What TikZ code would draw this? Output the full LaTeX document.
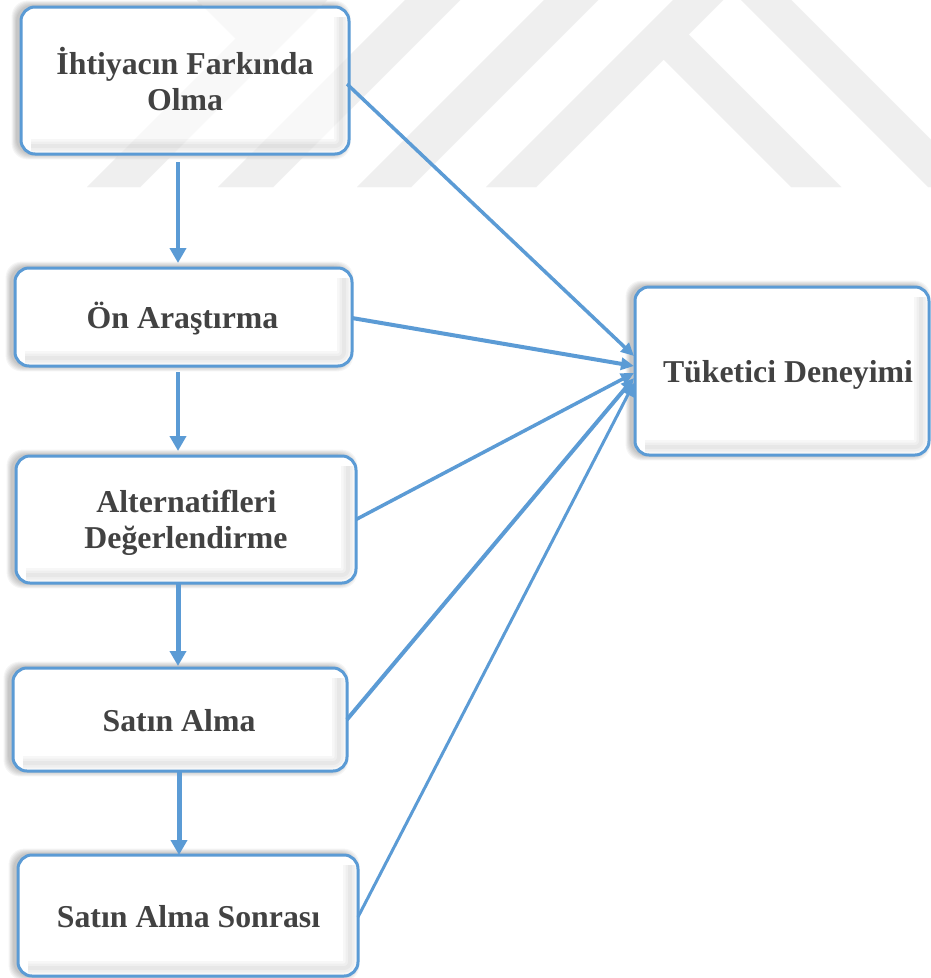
\documentclass[tikz,border=0pt]{standalone}
\usepackage{fontspec}
\setmainfont{Liberation Serif}
\usetikzlibrary{arrows.meta}

\definecolor{edgeblue}{HTML}{5B9BD5}
\definecolor{inkgray}{HTML}{424242}
\definecolor{markgray}{HTML}{EFEFEF}

\pgfdeclarelayer{back}
\pgfsetlayers{back,main}

\tikzset{
  card/.style={rectangle, rounded corners=14pt, fill=white, inner sep=0pt, outer sep=0pt},
  frame/.style={draw=edgeblue, line width=3pt, rounded corners=14pt},
  txt/.style={anchor=base, inner sep=0pt, outer sep=0pt, text=inkgray,
    font=\fontsize{31.8pt}{36pt}\selectfont\bfseries},
  flow/.style={draw=edgeblue, line width=#1, -{Triangle[length=15pt,width=16pt]}},
  flow/.default=4pt,
  feed/.style={draw=edgeblue, line width=#1, -{Triangle[length=13pt,width=12pt]}},
  feed/.default=3.5pt,
}

% diagonal stripe emblem in the background
\newcommand{\markpattern}[1]{%
  \fill[#1]
    (87,187) -- (140,187) -- (327,0) -- (197,0) -- (235.5,38.5) -- cycle
    (218,187) -- (273,187) -- (460,0) -- (405,0) -- cycle
    (357,187) -- (411,187) -- (598,0) -- (544,0) -- cycle
    (486,187) -- (536,187) -- (663.5,59.5) -- (791,187) -- (841,187)
      -- (688.5,34.5) -- (723,0) -- (673,0) -- cycle
    (741,0) -- (791,0) -- (931,140) -- (931,187) -- (928,187) -- cycle;
}

\begin{document}
\begin{tikzpicture}[x=1pt,y=-1pt]
\useasboundingbox (0,0) rectangle (931,978);

\begin{pgfonlayer}{back}
  \fill[white] (0,0) rectangle (931,978);
  \markpattern{markgray}
\end{pgfonlayer}

% stage boxes
\node[card, minimum width=328pt, minimum height=147pt] (n1) at (185,80.5) {};
\node[card, minimum width=337pt, minimum height=98pt]  (n2) at (183.5,317) {};
\node[card, minimum width=340pt, minimum height=127pt] (n3) at (186,519.5) {};
\node[card, minimum width=334pt, minimum height=103pt] (n4) at (180,719.5) {};
\node[card, minimum width=340pt, minimum height=121pt] (n5) at (188,915.5) {};
\node[card, minimum width=294pt, minimum height=168pt] (n6) at (782,371) {};

% soft outer shadows
\begin{pgfonlayer}{back}
  \foreach \nd in {n1,n2,n3,n4,n5,n6}{
    \foreach \e in {1,...,6}{
      \fill[black, opacity=0.04, rounded corners=16pt]
        ([xshift=-4pt-\e*0.9pt, yshift=\e*0.9pt+1pt]\nd.north west) rectangle
        ([xshift=-4pt+\e*0.9pt, yshift=-\e*0.9pt]\nd.south east);
    }
  }
\end{pgfonlayer}

% emblem seen faintly through the boxes
\markpattern{markgray, opacity=0.4}

% inner shading along right and bottom sides
\foreach \nd in {n1,n2,n3,n4,n5,n6}{
  \foreach \w in {14,9,4}{
    \draw[black, opacity=0.03, line width=\w pt, rounded corners=6pt]
      ([xshift=-8pt,yshift=-10pt]\nd.north east) --
      ([xshift=-8pt,yshift=8pt]\nd.south east) --
      ([xshift=10pt,yshift=8pt]\nd.south west);
  }
}

% box outlines
\foreach \nd in {n1,n2,n3,n4,n5,n6}{
  \draw[frame] (\nd.north west) rectangle (\nd.south east);
}

% sequence arrows
\draw[flow=4pt] ([xshift=-7pt,yshift=-8pt]n1.south) -- ([xshift=-5.5pt,yshift=5pt]n2.north);
\draw[flow=4pt] ([xshift=-5.5pt,yshift=-6pt]n2.south) -- ([xshift=-8pt,yshift=5pt]n3.north);
\draw[flow=5pt] ([xshift=-8pt,yshift=-1pt]n3.south) -- ([xshift=-2pt,yshift=2pt]n4.north);
\draw[flow=5pt] ([xshift=-1pt]n4.south) -- ([xshift=-9pt]n5.north);

% links to the experience box
\draw[feed=3.5pt] ([xshift=-2pt,yshift=-3.5pt]n1.east) -- ([xshift=-1pt,yshift=15pt]n6.west);
\draw[feed=4pt]   ([yshift=-1pt]n2.east) -- ([xshift=-1pt,yshift=5pt]n6.west);
\draw[feed=3.5pt] (n3.east) -- ([xshift=-1pt,yshift=-2pt]n6.west);
\draw[feed=4pt]   (n4.east) -- ([xshift=-1pt,yshift=-7pt]n6.west);
\draw[feed=3pt]   ([yshift=-1.5pt]n5.east) -- ([xshift=-1pt,yshift=-12pt]n6.west);

% captions
\node[txt] (t1a) at (185,74)    {İhtiyacın Farkında};
\node[txt] (t1b) at (185,110)   {Olma};
\node[txt] (t2)  at (182.5,328) {Ön Araştırma};
\node[txt] (t3a) at (186.5,512) {Alternatifleri};
\node[txt] (t3b) at (186,548)   {Değerlendirme};
\node[txt] (t4)  at (179,731)   {Satın Alma};
\node[txt] (t5)  at (188.5,927) {Satın Alma Sonrası};
\node[txt] (t6)  at (788,382)   {Tüketici Deneyimi};
\end{tikzpicture}
\end{document}
